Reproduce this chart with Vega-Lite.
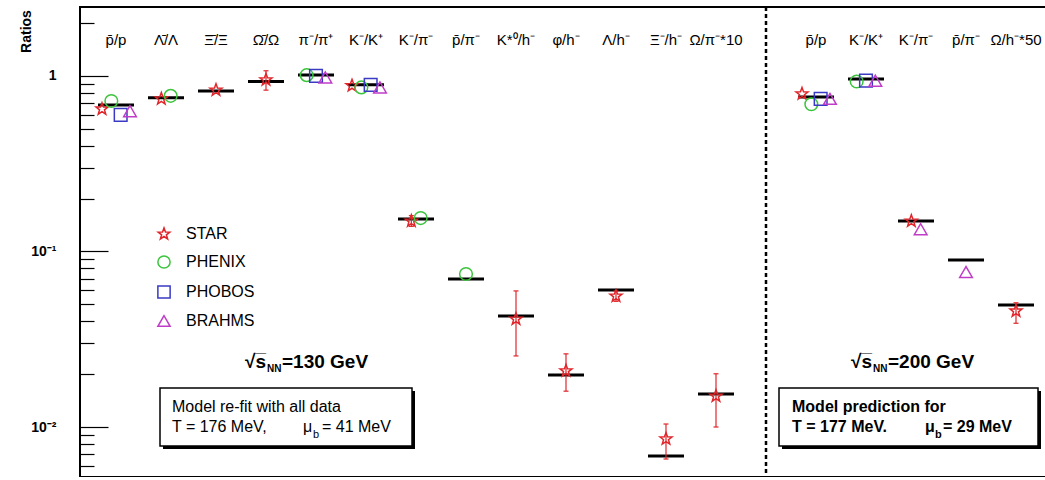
{
  "$schema": "https://vega.github.io/schema/vega-lite/v6.json",
  "width": 972,
  "height": 470,
  "autosize": "none",
  "padding": {"left": 80, "top": 7, "right": 0, "bottom": 0},
  "background": "white",
  "config": {
    "font": "Liberation Sans",
    "view": {"stroke": "black", "strokeWidth": 2},
    "legend": {
      "orient": "none",
      "legendX": 76,
      "legendY": 219,
      "padding": 0,
      "labelFont": "Liberation Sans",
      "labelFontSize": 16,
      "labelColor": "black",
      "symbolSize": 150,
      "symbolStrokeWidth": 1.5,
      "rowPadding": 10,
      "labelOffset": 14
    }
  },
  "datasets": {
    "categories": [
      {"key": "130:p̄/p", "label": "p̄/p"},
      {"key": "130:Λ̄/Λ", "label": "Λ̄/Λ"},
      {"key": "130:Ξ̄/Ξ", "label": "Ξ̄/Ξ"},
      {"key": "130:Ω̄/Ω", "label": "Ω̄/Ω"},
      {"key": "130:π⁻/π⁺", "label": "π⁻/π⁺"},
      {"key": "130:K⁻/K⁺", "label": "K⁻/K⁺"},
      {"key": "130:K⁻/π⁻", "label": "K⁻/π⁻"},
      {"key": "130:p̄/π⁻", "label": "p̄/π⁻"},
      {"key": "130:K*⁰/h⁻", "label": "K*⁰/h⁻"},
      {"key": "130:φ/h⁻", "label": "φ/h⁻"},
      {"key": "130:Λ/h⁻", "label": "Λ/h⁻"},
      {"key": "130:Ξ⁻/h⁻", "label": "Ξ⁻/h⁻"},
      {"key": "130:Ω/π⁻*10", "label": "Ω/π⁻*10"},
      {"key": "200:p̄/p", "label": "p̄/p"},
      {"key": "200:K⁻/K⁺", "label": "K⁻/K⁺"},
      {"key": "200:K⁻/π⁻", "label": "K⁻/π⁻"},
      {"key": "200:p̄/π⁻", "label": "p̄/π⁻"},
      {"key": "200:Ω/h⁻*50", "label": "Ω/h⁻*50"}
    ],
    "measured": [
      {"key": "130:p̄/p", "exp": "STAR", "ratio": 0.648},
      {"key": "130:p̄/p", "exp": "PHENIX", "ratio": 0.72},
      {"key": "130:p̄/p", "exp": "PHOBOS", "ratio": 0.6},
      {"key": "130:p̄/p", "exp": "BRAHMS", "ratio": 0.63},
      {"key": "130:Λ̄/Λ", "exp": "STAR", "ratio": 0.74},
      {"key": "130:Λ̄/Λ", "exp": "PHENIX", "ratio": 0.77},
      {"key": "130:Ξ̄/Ξ", "exp": "STAR", "ratio": 0.83},
      {"key": "130:Ω̄/Ω", "exp": "STAR", "ratio": 0.95, "lo": 0.83, "hi": 1.07},
      {"key": "130:π⁻/π⁺", "exp": "PHENIX", "ratio": 1.01},
      {"key": "130:π⁻/π⁺", "exp": "PHOBOS", "ratio": 1.0},
      {"key": "130:π⁻/π⁺", "exp": "BRAHMS", "ratio": 0.98},
      {"key": "130:K⁻/K⁺", "exp": "STAR", "ratio": 0.88},
      {"key": "130:K⁻/K⁺", "exp": "PHENIX", "ratio": 0.86},
      {"key": "130:K⁻/K⁺", "exp": "PHOBOS", "ratio": 0.89},
      {"key": "130:K⁻/K⁺", "exp": "BRAHMS", "ratio": 0.86},
      {"key": "130:K⁻/π⁻", "exp": "STAR", "ratio": 0.149, "lo": 0.139, "hi": 0.16},
      {"key": "130:K⁻/π⁻", "exp": "PHENIX", "ratio": 0.155},
      {"key": "130:p̄/π⁻", "exp": "PHENIX", "ratio": 0.0744},
      {"key": "130:K*⁰/h⁻", "exp": "STAR", "ratio": 0.0412, "lo": 0.0254, "hi": 0.0596},
      {"key": "130:φ/h⁻", "exp": "STAR", "ratio": 0.0209, "lo": 0.016, "hi": 0.0261},
      {"key": "130:Λ/h⁻", "exp": "STAR", "ratio": 0.0557, "lo": 0.052, "hi": 0.0595},
      {"key": "130:Ξ⁻/h⁻", "exp": "STAR", "ratio": 0.00855, "lo": 0.00657, "hi": 0.0104},
      {"key": "130:Ω/π⁻*10", "exp": "STAR", "ratio": 0.015, "lo": 0.01, "hi": 0.0201},
      {"key": "200:p̄/p", "exp": "STAR", "ratio": 0.79},
      {"key": "200:p̄/p", "exp": "PHENIX", "ratio": 0.69},
      {"key": "200:p̄/p", "exp": "PHOBOS", "ratio": 0.74},
      {"key": "200:p̄/p", "exp": "BRAHMS", "ratio": 0.74},
      {"key": "200:K⁻/K⁺", "exp": "PHENIX", "ratio": 0.93},
      {"key": "200:K⁻/K⁺", "exp": "PHOBOS", "ratio": 0.94},
      {"key": "200:K⁻/K⁺", "exp": "BRAHMS", "ratio": 0.94},
      {"key": "200:K⁻/π⁻", "exp": "STAR", "ratio": 0.149},
      {"key": "200:K⁻/π⁻", "exp": "BRAHMS", "ratio": 0.134},
      {"key": "200:p̄/π⁻", "exp": "BRAHMS", "ratio": 0.0764},
      {"key": "200:Ω/h⁻*50", "exp": "STAR", "ratio": 0.0458, "lo": 0.039, "hi": 0.051}
    ],
    "thermal": [
      {"key": "130:p̄/p", "model": 0.684},
      {"key": "130:Λ̄/Λ", "model": 0.75},
      {"key": "130:Ξ̄/Ξ", "model": 0.82},
      {"key": "130:Ω̄/Ω", "model": 0.93},
      {"key": "130:π⁻/π⁺", "model": 1.013},
      {"key": "130:K⁻/K⁺", "model": 0.89},
      {"key": "130:K⁻/π⁻", "model": 0.153},
      {"key": "130:p̄/π⁻", "model": 0.0697},
      {"key": "130:K*⁰/h⁻", "model": 0.0429},
      {"key": "130:φ/h⁻", "model": 0.0198},
      {"key": "130:Λ/h⁻", "model": 0.0604},
      {"key": "130:Ξ⁻/h⁻", "model": 0.00684},
      {"key": "130:Ω/π⁻*10", "model": 0.0154},
      {"key": "200:p̄/p", "model": 0.759},
      {"key": "200:K⁻/K⁺", "model": 0.96},
      {"key": "200:K⁻/π⁻", "model": 0.149},
      {"key": "200:p̄/π⁻", "model": 0.0895},
      {"key": "200:Ω/h⁻*50", "model": 0.0496}
    ]
  },
  "layer": [
    {
      "data": {"name": "thermal"},
      "mark": {"type": "tick", "color": "black", "opacity": 1, "size": 36, "thickness": 3},
      "encoding": {
        "x": {
          "field": "key",
          "type": "nominal",
          "axis": null,
          "scale": {
            "domain": [
              "130:p̄/p", "130:Λ̄/Λ", "130:Ξ̄/Ξ", "130:Ω̄/Ω", "130:π⁻/π⁺", "130:K⁻/K⁺", "130:K⁻/π⁻",
              "130:p̄/π⁻", "130:K*⁰/h⁻", "130:φ/h⁻", "130:Λ/h⁻", "130:Ξ⁻/h⁻", "130:Ω/π⁻*10",
              "gap",
              "200:p̄/p", "200:K⁻/K⁺", "200:K⁻/π⁻", "200:p̄/π⁻", "200:Ω/h⁻*50"
            ],
            "paddingInner": 0,
            "paddingOuter": 0.22
          }
        },
        "y": {
          "field": "model",
          "type": "quantitative",
          "scale": {"type": "log", "domain": [0.00519, 2.47], "nice": false},
          "axis": {
            "title": "Ratios",
            "titleFont": "Liberation Sans",
            "titleFontSize": 14,
            "titleFontWeight": "bold",
            "titleColor": "black",
            "titleAngle": 270,
            "titleX": -54,
            "titleY": 24,
            "titleAlign": "center",
            "titleBaseline": "middle",
            "grid": false,
            "domain": false,
            "values": [0.006, 0.007, 0.008, 0.009, 0.01, 0.02, 0.03, 0.04, 0.05, 0.06, 0.07, 0.08, 0.09, 0.1, 0.2, 0.3, 0.4, 0.5, 0.6, 0.7, 0.8, 0.9, 1, 2],
            "labelExpr": "datum.value == 1 ? '1' : (abs(datum.value - 0.1) < 1e-9 ? '10⁻¹' : (abs(datum.value - 0.01) < 1e-9 ? '10⁻²' : ''))",
            "labelFont": "Liberation Sans",
            "labelFontSize": 14,
            "labelFontWeight": "bold",
            "labelColor": "black",
            "labelPadding": 52,
            "tickColor": "black",
            "tickWidth": 1.2,
            "tickSize": {
              "condition": {"test": "datum.value == 1 || abs(datum.value - 0.1) < 1e-9 || abs(datum.value - 0.01) < 1e-9", "value": -28},
              "value": -14
            }
          }
        }
      }
    },
    {
      "data": {"values": [{}]},
      "mark": {"type": "rule", "color": "black", "strokeWidth": 2.5, "strokeDash": [4, 3]},
      "encoding": {"x": {"datum": "gap", "type": "nominal", "bandPosition": 0.5}}
    },
    {
      "data": {"name": "measured"},
      "transform": [
        {"window": [{"op": "row_number", "as": "rank"}], "groupby": ["key"]},
        {"joinaggregate": [{"op": "count", "as": "n"}], "groupby": ["key"]},
        {"calculate": "datum.rank - (datum.n + 1) / 2", "as": "dodge"}
      ],
      "encoding": {
        "x": {"field": "key", "type": "nominal"},
        "xOffset": {"field": "dodge", "type": "quantitative", "scale": {"domain": [-1.5, 1.5], "range": [11, 39]}}
      },
      "layer": [
        {
          "mark": {"type": "rule", "color": "#e0262b", "opacity": 1, "strokeWidth": 1.2},
          "encoding": {
            "y": {"field": "lo", "type": "quantitative"},
            "y2": {"field": "hi"}
          }
        },
        {
          "mark": {"type": "tick", "color": "#e0262b", "opacity": 1, "size": 5, "thickness": 1.2},
          "encoding": {"y": {"field": "lo", "type": "quantitative"}}
        },
        {
          "mark": {"type": "tick", "color": "#e0262b", "opacity": 1, "size": 5, "thickness": 1.2},
          "encoding": {"y": {"field": "hi", "type": "quantitative"}}
        },
        {
          "mark": {"type": "point", "filled": false, "size": 160, "strokeWidth": 1.5, "opacity": 1},
          "encoding": {
            "y": {"field": "ratio", "type": "quantitative"},
            "color": {
              "field": "exp",
              "type": "nominal",
              "title": null,
              "scale": {"domain": ["STAR", "PHENIX", "PHOBOS", "BRAHMS"], "range": ["#e0262b", "#3cc43c", "#3a3ac4", "#c03cc8"]}
            },
            "shape": {
              "field": "exp",
              "type": "nominal",
              "title": null,
              "scale": {
                "domain": ["STAR", "PHENIX", "PHOBOS", "BRAHMS"],
                "range": [
                  "M0,-1L0.24,-0.33L0.95,-0.31L0.39,0.13L0.59,0.81L0,0.41L-0.59,0.81L-0.39,0.13L-0.95,-0.31L-0.24,-0.33Z",
                  "circle",
                  "square",
                  "triangle-up"
                ]
              }
            }
          }
        }
      ]
    },
    {
      "data": {"name": "categories"},
      "mark": {"type": "text", "fontSize": 15, "color": "black", "baseline": "middle", "align": "center"},
      "encoding": {
        "x": {"field": "key", "type": "nominal"},
        "y": {"datum": 1.6, "type": "quantitative"},
        "text": {"field": "label"}
      }
    },
    {
      "data": {"values": [{}]},
      "layer": [
        {
          "mark": {"type": "rect", "color": "black"},
          "encoding": {
            "x": {"datum": "130:Λ̄/Λ", "type": "nominal", "bandPosition": 0.44},
            "x2": {"datum": "130:K⁻/π⁻", "bandPosition": 0.48},
            "y": {"datum": 0.01603, "type": "quantitative"},
            "y2": {"datum": 0.00749}
          }
        },
        {
          "mark": {"type": "rect", "fill": "white", "stroke": "black", "strokeWidth": 1.5},
          "encoding": {
            "x": {"datum": "130:Λ̄/Λ", "type": "nominal", "bandPosition": 0.38},
            "x2": {"datum": "130:K⁻/π⁻", "bandPosition": 0.42},
            "y": {"datum": 0.01668, "type": "quantitative"},
            "y2": {"datum": 0.00779}
          }
        },
        {
          "mark": {"type": "text", "text": "Model re-fit with all data", "fontSize": 16, "align": "left", "baseline": "middle", "color": "black"},
          "encoding": {
            "x": {"datum": "130:Λ̄/Λ", "type": "nominal", "bandPosition": 0.62},
            "y": {"datum": 0.013, "type": "quantitative"}
          }
        },
        {
          "mark": {"type": "text", "text": "T = 176 MeV,", "fontSize": 16, "align": "left", "baseline": "middle", "color": "black"},
          "encoding": {
            "x": {"datum": "130:Λ̄/Λ", "type": "nominal", "bandPosition": 0.62},
            "y": {"datum": 0.01, "type": "quantitative"}
          }
        },
        {
          "mark": {"type": "text", "text": "μ", "fontSize": 16, "align": "left", "baseline": "middle", "color": "black"},
          "encoding": {
            "x": {"datum": "130:π⁻/π⁺", "type": "nominal", "bandPosition": 0.24},
            "y": {"datum": 0.01, "type": "quantitative"}
          }
        },
        {
          "mark": {"type": "text", "text": "b", "fontSize": 11, "align": "left", "baseline": "middle", "color": "black"},
          "encoding": {
            "x": {"datum": "130:π⁻/π⁺", "type": "nominal", "bandPosition": 0.44},
            "y": {"datum": 0.009, "type": "quantitative"}
          }
        },
        {
          "mark": {"type": "text", "text": "= 41 MeV", "fontSize": 16, "align": "left", "baseline": "middle", "color": "black"},
          "encoding": {
            "x": {"datum": "130:π⁻/π⁺", "type": "nominal", "bandPosition": 0.62},
            "y": {"datum": 0.01, "type": "quantitative"}
          }
        },
        {
          "mark": {"type": "text", "text": "√s̅", "fontSize": 19, "fontWeight": "bold", "align": "left", "baseline": "middle", "color": "black"},
          "encoding": {
            "x": {"datum": "130:Ω̄/Ω", "type": "nominal", "bandPosition": 0.08},
            "y": {"datum": 0.0235, "type": "quantitative"}
          }
        },
        {
          "mark": {"type": "text", "text": "NN", "fontSize": 10, "fontWeight": "bold", "align": "left", "baseline": "middle", "color": "black"},
          "encoding": {
            "x": {"datum": "130:Ω̄/Ω", "type": "nominal", "bandPosition": 0.52},
            "y": {"datum": 0.0213, "type": "quantitative"}
          }
        },
        {
          "mark": {"type": "text", "text": "=130 GeV", "fontSize": 19, "fontWeight": "bold", "align": "left", "baseline": "middle", "color": "black"},
          "encoding": {
            "x": {"datum": "130:Ω̄/Ω", "type": "nominal", "bandPosition": 0.82},
            "y": {"datum": 0.0235, "type": "quantitative"}
          }
        },
        {
          "mark": {"type": "rect", "color": "black"},
          "encoding": {
            "x": {"datum": "gap", "type": "nominal", "bandPosition": 0.82},
            "x2": {"datum": "200:Ω/h⁻*50", "bandPosition": 1.0},
            "y": {"datum": 0.01603, "type": "quantitative"},
            "y2": {"datum": 0.00749}
          }
        },
        {
          "mark": {"type": "rect", "fill": "white", "stroke": "black", "strokeWidth": 1.5},
          "encoding": {
            "x": {"datum": "gap", "type": "nominal", "bandPosition": 0.76},
            "x2": {"datum": "200:Ω/h⁻*50", "bandPosition": 0.94},
            "y": {"datum": 0.01668, "type": "quantitative"},
            "y2": {"datum": 0.00779}
          }
        },
        {
          "mark": {"type": "text", "text": "Model prediction for", "fontSize": 16, "fontWeight": "bold", "align": "left", "baseline": "middle", "color": "black"},
          "encoding": {
            "x": {"datum": "200:p̄/p", "type": "nominal", "bandPosition": 0.02},
            "y": {"datum": 0.013, "type": "quantitative"}
          }
        },
        {
          "mark": {"type": "text", "text": "T = 177 MeV.", "fontSize": 16, "fontWeight": "bold", "align": "left", "baseline": "middle", "color": "black"},
          "encoding": {
            "x": {"datum": "200:p̄/p", "type": "nominal", "bandPosition": 0.02},
            "y": {"datum": 0.01, "type": "quantitative"}
          }
        },
        {
          "mark": {"type": "text", "text": "μ", "fontSize": 16, "fontWeight": "bold", "align": "left", "baseline": "middle", "color": "black"},
          "encoding": {
            "x": {"datum": "200:K⁻/π⁻", "type": "nominal", "bandPosition": 0.68},
            "y": {"datum": 0.01, "type": "quantitative"}
          }
        },
        {
          "mark": {"type": "text", "text": "b", "fontSize": 11, "fontWeight": "bold", "align": "left", "baseline": "middle", "color": "black"},
          "encoding": {
            "x": {"datum": "200:K⁻/π⁻", "type": "nominal", "bandPosition": 0.88},
            "y": {"datum": 0.009, "type": "quantitative"}
          }
        },
        {
          "mark": {"type": "text", "text": "= 29 MeV", "fontSize": 16, "fontWeight": "bold", "align": "left", "baseline": "middle", "color": "black"},
          "encoding": {
            "x": {"datum": "200:p̄/π⁻", "type": "nominal", "bandPosition": 0.04},
            "y": {"datum": 0.01, "type": "quantitative"}
          }
        },
        {
          "mark": {"type": "text", "text": "√s̅", "fontSize": 19, "fontWeight": "bold", "align": "left", "baseline": "middle", "color": "black"},
          "encoding": {
            "x": {"datum": "200:K⁻/K⁺", "type": "nominal", "bandPosition": 0.2},
            "y": {"datum": 0.0235, "type": "quantitative"}
          }
        },
        {
          "mark": {"type": "text", "text": "NN", "fontSize": 10, "fontWeight": "bold", "align": "left", "baseline": "middle", "color": "black"},
          "encoding": {
            "x": {"datum": "200:K⁻/K⁺", "type": "nominal", "bandPosition": 0.64},
            "y": {"datum": 0.0213, "type": "quantitative"}
          }
        },
        {
          "mark": {"type": "text", "text": "=200 GeV", "fontSize": 19, "fontWeight": "bold", "align": "left", "baseline": "middle", "color": "black"},
          "encoding": {
            "x": {"datum": "200:K⁻/K⁺", "type": "nominal", "bandPosition": 0.94},
            "y": {"datum": 0.0235, "type": "quantitative"}
          }
        }
      ]
    }
  ]
}
